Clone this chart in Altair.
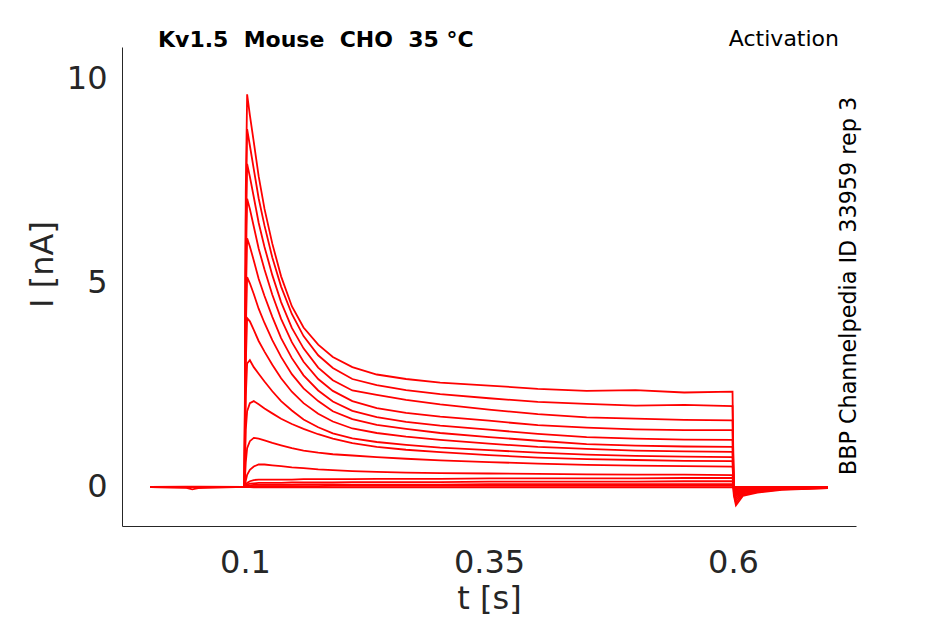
import altair as alt
import pandas as pd

# time points [s]
T = [0.003, 0.04, 0.046, 0.052, 0.0995, 0.1008, 0.1022, 0.105, 0.109, 0.114,
     0.12, 0.128, 0.137, 0.148, 0.16, 0.175, 0.19, 0.21, 0.235, 0.265,
     0.3, 0.35, 0.4, 0.45, 0.5, 0.55, 0.5995, 0.6008, 0.603, 0.61,
     0.625, 0.65, 0.697]

# currents [nA], one list per voltage step
I01 = [0.0, -0.02, -0.06, -0.03, 0.0, 7.2, 9.6, 9.09, 8.44, 7.6, 6.8, 5.95, 5.15, 4.42, 3.9, 3.48, 3.18, 2.93, 2.75, 2.64, 2.55, 2.48, 2.40, 2.35, 2.37, 2.31, 2.33, -0.2, -0.45, -0.22, -0.14, -0.07, -0.03]
I02 = [0.0, 0.0, 0.0, 0.0, 0.0, 6.5, 8.75, 8.35, 7.77, 7.06, 6.39, 5.61, 4.90, 4.23, 3.69, 3.22, 2.91, 2.64, 2.49, 2.37, 2.27, 2.17, 2.08, 2.03, 1.99, 2.01, 1.98, -0.17, -0.38, -0.19, -0.12, -0.06, -0.03]
I03 = [0.0, 0.0, 0.0, 0.0, 0.0, 5.9, 7.9, 7.59, 7.09, 6.46, 5.87, 5.18, 4.52, 3.89, 3.39, 2.92, 2.61, 2.36, 2.25, 2.13, 2.02, 1.89, 1.78, 1.70, 1.67, 1.64, 1.63, -0.14, -0.32, -0.16, -0.1, -0.05, -0.02]
I04 = [0.0, 0.0, 0.0, 0.0, 0.0, 5.3, 7.05, 6.80, 6.37, 5.83, 5.32, 4.70, 4.11, 3.54, 3.06, 2.64, 2.35, 2.10, 1.93, 1.81, 1.72, 1.62, 1.51, 1.45, 1.41, 1.39, 1.39, -0.12, -0.27, -0.13, -0.08, -0.04, -0.02]
I05 = [0.0, 0.0, 0.0, 0.0, 0.0, 4.5, 6.08, 5.88, 5.54, 5.09, 4.67, 4.16, 3.64, 3.15, 2.73, 2.36, 2.09, 1.86, 1.71, 1.59, 1.50, 1.40, 1.30, 1.22, 1.18, 1.16, 1.15, -0.1, -0.22, -0.11, -0.07, -0.04, -0.02]
I06 = [0.0, 0.0, 0.0, 0.0, 0.0, 3.8, 5.13, 4.98, 4.72, 4.36, 4.01, 3.59, 3.18, 2.76, 2.41, 2.10, 1.85, 1.66, 1.52, 1.42, 1.32, 1.22, 1.13, 1.05, 1.01, 0.99, 0.98, -0.08, -0.19, -0.09, -0.06, -0.03, -0.01]
I07 = [0.0, 0.0, 0.0, 0.0, 0.0, 3.0, 4.13, 4.05, 3.84, 3.57, 3.31, 2.99, 2.66, 2.33, 2.05, 1.79, 1.60, 1.43, 1.32, 1.23, 1.15, 1.06, 0.98, 0.93, 0.89, 0.87, 0.86, -0.07, -0.16, -0.08, -0.05, -0.03, -0.01]
I08 = [0.0, 0.0, 0.0, 0.0, 0.0, 2.2, 3.02, 3.10, 2.93, 2.77, 2.58, 2.34, 2.10, 1.87, 1.65, 1.46, 1.31, 1.19, 1.10, 1.03, 0.96, 0.90, 0.84, 0.79, 0.76, 0.74, 0.73, -0.06, -0.14, -0.07, -0.04, -0.02, -0.01]
I09 = [0.0, 0.0, 0.0, 0.0, 0.0, 1.4, 1.85, 2.05, 2.1, 2.02, 1.92, 1.80, 1.67, 1.54, 1.42, 1.29, 1.18, 1.07, 0.98, 0.91, 0.85, 0.78, 0.72, 0.68, 0.66, 0.64, 0.63, -0.05, -0.12, -0.06, -0.04, -0.02, -0.01]
I10 = [0.0, 0.0, 0.0, 0.0, 0.0, 0.6, 0.95, 1.12, 1.2, 1.18, 1.14, 1.08, 1.02, 0.95, 0.89, 0.84, 0.80, 0.77, 0.73, 0.69, 0.65, 0.61, 0.57, 0.54, 0.52, 0.51, 0.50, -0.04, -0.1, -0.05, -0.03, -0.02, 0.0]
I11 = [0.0, 0.0, 0.0, 0.0, 0.0, 0.15, 0.3, 0.42, 0.5, 0.55, 0.55, 0.53, 0.51, 0.48, 0.46, 0.43, 0.41, 0.39, 0.37, 0.35, 0.34, 0.33, 0.32, 0.31, 0.30, 0.30, 0.29, -0.03, -0.06, -0.03, -0.02, -0.01, 0.0]
I12 = [0.0, 0.01, 0.0, 0.0, 0.0, 0.05, 0.1, 0.14, 0.17, 0.18, 0.18, 0.18, 0.18, 0.18, 0.19, 0.19, 0.19, 0.19, 0.2, 0.2, 0.2, 0.21, 0.21, 0.21, 0.21, 0.22, 0.22, -0.02, -0.04, -0.02, -0.01, 0.0, 0.0]
I13 = [0.0, 0.0, 0.01, 0.0, 0.0, 0.03, 0.06, 0.08, 0.09, 0.1, 0.1, 0.1, 0.1, 0.11, 0.11, 0.11, 0.11, 0.12, 0.12, 0.12, 0.12, 0.13, 0.13, 0.13, 0.13, 0.14, 0.14, -0.01, -0.03, -0.01, 0.0, 0.0, 0.0]
I14 = [0.0, -0.01, 0.0, 0.0, 0.0, 0.01, 0.03, 0.04, 0.05, 0.05, 0.05, 0.05, 0.05, 0.05, 0.06, 0.06, 0.06, 0.06, 0.06, 0.06, 0.06, 0.07, 0.07, 0.07, 0.07, 0.07, 0.07, 0.0, -0.01, 0.0, 0.0, 0.0, 0.0]
I15 = [0.0, 0.0, 0.0, 0.01, 0.0, 0.0, 0.01, 0.02, 0.02, 0.02, 0.02, 0.02, 0.02, 0.02, 0.02, 0.02, 0.03, 0.03, 0.03, 0.03, 0.03, 0.03, 0.03, 0.03, 0.03, 0.03, 0.03, 0.0, 0.0, 0.0, 0.0, 0.0, 0.0]
I16 = [0.0, 0.0, 0.0, 0.0, 0.0, 0.0, 0.0, 0.0, -0.01, -0.01, -0.01, -0.01, -0.01, -0.01, -0.01, -0.01, -0.01, -0.01, -0.01, -0.01, -0.01, -0.01, -0.01, -0.01, -0.01, -0.01, -0.01, 0.0, 0.0, 0.0, 0.0, 0.0, 0.0]

TRACES = [I01, I02, I03, I04, I05, I06, I07, I08, I09, I10, I11, I12, I13, I14, I15, I16]

X_TICKS = [0.1, 0.35, 0.6]
Y_TICKS = [0, 5, 10]

TITLE = "Kv1.5\u00a0\u00a0Mouse\u00a0\u00a0CHO\u00a0\u00a035\u00a0°C"
PROTOCOL = "Activation"
SIDE = "BBP Channelpedia ID 33959 rep 3"

rows = []
for k, vals in enumerate(TRACES, start=1):
    for t, v in zip(T, vals):
        rows.append({"trace": k, "t": t, "I": v})
df = pd.DataFrame(rows)

FONT = "DejaVu Sans"
INK = "#262626"
W, H = 734, 479

lines = alt.Chart(df).mark_line(color="#ff0000", strokeWidth=1.8).encode(
    x=alt.X("t:Q",
            scale=alt.Scale(domain=[-0.026, 0.726], nice=False, zero=False),
            axis=alt.Axis(values=X_TICKS, format=".2~f", title="t [s]", grid=False,
                          ticks=False, tickSize=0, labelPadding=46,
                          labelBaseline="alphabetic", labelFlush=False,
                          labelFontSize=32, labelColor=INK, labelFont=FONT,
                          titleFontSize=32, titleFont=FONT, titleFontWeight="normal",
                          titleColor=INK, titleY=82, titleBaseline="alphabetic",
                          domainColor=INK, domainWidth=1)),
    y=alt.Y("I:Q",
            scale=alt.Scale(domain=[-0.954, 10.758], nice=False, zero=False),
            axis=alt.Axis(values=Y_TICKS, format="d", title="I [nA]", grid=False,
                          ticks=False, tickSize=0, labelPadding=15, labelFlush=False,
                          labelFontSize=32, labelColor=INK, labelFont=FONT,
                          titleFontSize=32, titleFont=FONT, titleFontWeight="normal",
                          titleColor=INK, titleX=-70, titleY=217, titleAngle=270,
                          titleAlign="center", titleBaseline="alphabetic",
                          domainColor=INK, domainWidth=1)),
    detail="trace:N",
)

title_txt = alt.Chart(pd.DataFrame({"txt": [TITLE]})).mark_text(
    font=FONT, fontSize=22, fontWeight="bold", color="#000000",
    align="left", baseline="alphabetic"
).encode(x=alt.value(36), y=alt.value(0), text="txt:N")

proto_txt = alt.Chart(pd.DataFrame({"txt": [PROTOCOL]})).mark_text(
    font=FONT, fontSize=22, color="#000000", align="right", baseline="alphabetic"
).encode(x=alt.value(717), y=alt.value(-1), text="txt:N")

side_txt = alt.Chart(pd.DataFrame({"txt": [SIDE]})).mark_text(
    font=FONT, fontSize=22.3, color="#000000", align="center",
    baseline="alphabetic", angle=270
).encode(x=alt.value(734), y=alt.value(239), text="txt:N")

chart = alt.layer(lines, title_txt, proto_txt, side_txt).properties(
    width=W, height=H,
    autosize=alt.AutoSizeParams(type="none"),
    padding={"left": 114, "top": 39, "right": 80, "bottom": 90},
).configure(font=FONT).configure_view(stroke=None)

chart.save("out.html", embed_options={"renderer": "svg", "actions": False})
